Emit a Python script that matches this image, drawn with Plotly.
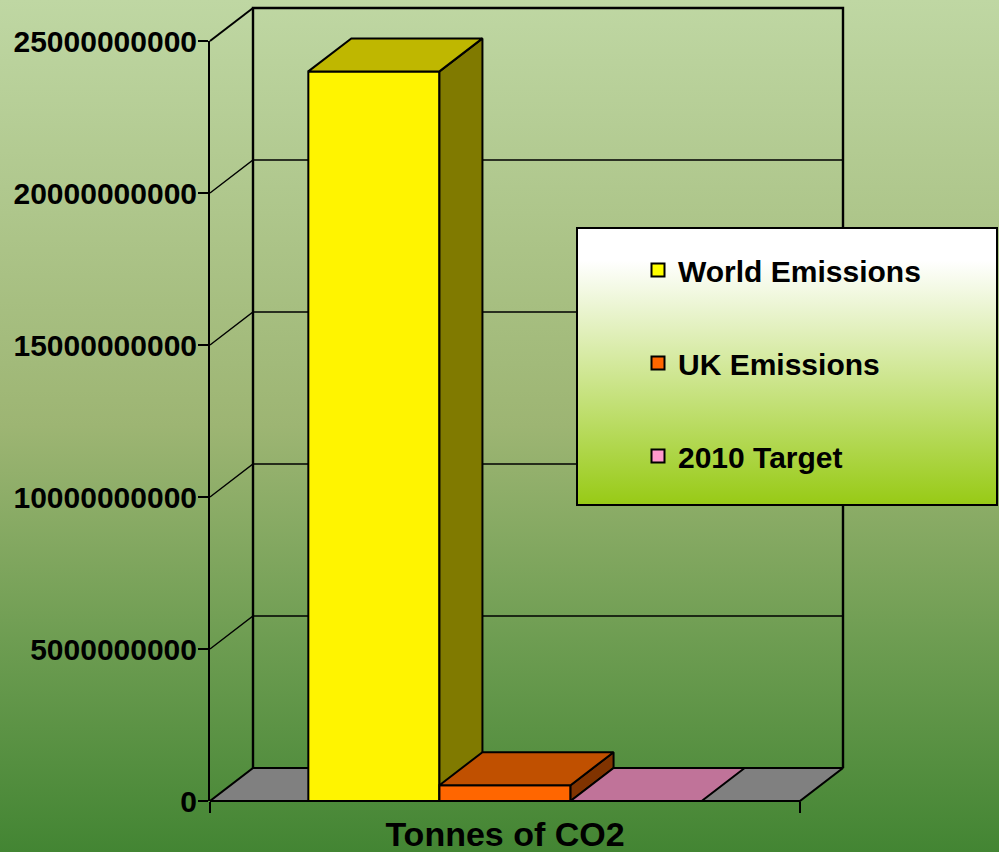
import base64
import plotly.graph_objects as go

# ---------------- data ----------------
categories = ["Tonnes of CO2"]
series_names = ["World Emissions", "UK Emissions", "2010 Target"]
series_values = [24.0e9, 0.52e9, 0.0]
y_tick_values = [0, 5e9, 10e9, 15e9, 20e9, 25e9]
y_tick_labels = ["0", "5000000000", "10000000000", "15000000000", "20000000000", "25000000000"]

# ---------------- styles ----------------
front_colors = ["#FFF400", "#FF6600", "#FF99CC"]
top_colors = ["#BFB700", "#C05000", "#C07399"]
side_colors = ["#807A00", "#803300", "#804C66"]
legend_colors = ["#FFFF00", "#FF6600", "#FF99CC"]
FLOOR_COLOR = "#808080"
FONT = "Liberation Sans, Arial, sans-serif"

# ---------------- layout geometry (pixels) ----------------
W, H = 999, 852
AX_L, FLOOR_R, ZERO_Y, TOP_Y = 210, 800, 801, 41
DEPTH_PX_X, DEPTH_PX_Y = 43, 33
Y_MAX = y_tick_values[-1]

n = len(series_names)
gap = 0.75                       # half of 150% gap width (in bar widths)
floor_w = n + 2 * gap            # category width in bar units
px_per_x = (FLOOR_R - AX_L) / floor_w
px_per_y = (ZERO_Y - TOP_Y) / Y_MAX
DX = DEPTH_PX_X / px_per_x
DY = DEPTH_PX_Y / px_per_y

fig = go.Figure()


def poly(xs, ys, fill, width=2.0, color="black", closed=True):
    if closed:
        xs = list(xs) + [xs[0]]
        ys = list(ys) + [ys[0]]
    fig.add_trace(go.Scatter(
        x=xs, y=ys, mode="lines",
        fill="toself" if fill else None,
        fillcolor=fill,
        line=dict(color=color, width=width),
        hoverinfo="skip", showlegend=False,
    ))


# walls: gridlines (side wall diagonals + back wall horizontals)
for t in y_tick_values[1:-1]:
    poly([0, DX, floor_w + DX], [t, t + DY, t + DY], None, width=1.4, closed=False)

# back wall frame
poly([DX, DX, floor_w + DX, floor_w + DX],
     [DY, Y_MAX + DY, Y_MAX + DY, DY], None, width=2.4, closed=False)
poly([0, DX], [Y_MAX, Y_MAX + DY], None, width=2.0, closed=False)

# floor
poly([0, floor_w, floor_w + DX, DX], [0, 0, DY, DY], FLOOR_COLOR, width=2.2)

# bars
for i, v in enumerate(series_values):
    x0 = gap + i
    x1 = x0 + 1
    if v > 0:
        poly([x0, x1, x1, x0], [0, 0, v, v], front_colors[i])
        poly([x1, x1 + DX, x1 + DX, x1], [0, DY, v + DY, v], side_colors[i])
    poly([x0, x1, x1 + DX, x0 + DX], [v, v, v + DY, v + DY], top_colors[i])

# legend entries
for i, name in enumerate(series_names):
    fig.add_trace(go.Scatter(
        x=[None], y=[None], mode="markers", name=name, legendgroup=name,
        marker=dict(symbol="square", size=13, color=legend_colors[i],
                    line=dict(color="black", width=2)),
        hoverinfo="skip",
    ))

# helper trace for the display axes
fig.add_trace(go.Scatter(x=[floor_w / 2], y=[0], xaxis="x2", yaxis="y2",
                         mode="markers", marker=dict(opacity=0),
                         hoverinfo="skip", showlegend=False))


def svg_uri(w, h, stops, stroke=None):
    st = "".join(f"<stop offset='{o}' stop-color='{c}'/>" for o, c in stops)
    border = ""
    if stroke:
        border = (f"<rect x='1' y='1' width='{w-2}' height='{h-2}' fill='none' "
                  f"stroke='{stroke}' stroke-width='2'/>")
    svg = (f"<svg xmlns='http://www.w3.org/2000/svg' width='{w}' height='{h}' "
           f"viewBox='0 0 {w} {h}' preserveAspectRatio='none'>"
           f"<defs><linearGradient id='g' x1='0' y1='0' x2='0' y2='1'>{st}"
           f"</linearGradient></defs><rect width='{w}' height='{h}' fill='url(#g)'/>"
           f"{border}</svg>")
    return "data:image/svg+xml;base64," + base64.b64encode(svg.encode()).decode()


bg = svg_uri(W, H, [(0, "#BFD7A3"), (0.5, "#9DB573"), (0.75, "#6E9D52"), (1, "#438533")])
LG_L, LG_T, LG_R, LG_B = 576, 227, 998, 506
lg = svg_uri(LG_R - LG_L, LG_B - LG_T,
             [(0, "#FFFFFF"), (0.12, "#FFFFFF"), (1, "#97CA14")], stroke="black")

fig.update_layout(
    width=W, height=H,
    margin=dict(l=0, r=0, t=0, b=0, autoexpand=False),
    paper_bgcolor="#438533",
    plot_bgcolor="rgba(0,0,0,0)",
    font=dict(family=FONT, color="black"),
    images=[
        dict(source=bg, xref="paper", yref="paper", x=0, y=1, sizex=1, sizey=1,
             xanchor="left", yanchor="top", sizing="stretch", layer="below"),
        dict(source=lg, xref="paper", yref="paper", x=LG_L / W, y=1 - LG_T / H,
             sizex=(LG_R - LG_L) / W, sizey=(LG_B - LG_T) / H,
             xanchor="left", yanchor="top", sizing="stretch", layer="above"),
    ],
    xaxis=dict(domain=[0, 1], range=[-AX_L / px_per_x, (W - AX_L) / px_per_x],
               visible=False, fixedrange=True, automargin=False),
    yaxis=dict(domain=[0, 1], range=[-(H - ZERO_Y) / px_per_y, ZERO_Y / px_per_y],
               visible=False, fixedrange=True, automargin=False),
    xaxis2=dict(domain=[AX_L / W, FLOOR_R / W], range=[0, floor_w], anchor="y2",
                automargin=False,
                showline=False, showgrid=False, zeroline=False,
                tickmode="array", tickvals=[floor_w / 2], ticktext=categories,
                ticks="outside", ticklen=0, tickcolor="rgba(0,0,0,0)",
                ticklabelstandoff=3,
                tickfont=dict(size=34, family=FONT, weight="bold", color="black"),
                minor=dict(tickmode="array", tickvals=[0, floor_w], ticks="outside",
                           ticklen=11, tickwidth=2, tickcolor="black", showgrid=False),
                fixedrange=True),
    yaxis2=dict(domain=[(H - ZERO_Y) / H, (H - TOP_Y) / H], range=[0, Y_MAX],
                anchor="x2", automargin=False,
                showline=True, linecolor="black", linewidth=2,
                showgrid=False, zeroline=False,
                tickmode="array", tickvals=y_tick_values, ticktext=y_tick_labels,
                ticks="outside", ticklen=10, tickwidth=1.5, tickcolor="black",
                ticklabelstandoff=-5,
                tickfont=dict(size=30, family=FONT, weight="bold", color="black"),
                fixedrange=True),
    showlegend=True,
    legend=dict(x=638 / W, xanchor="left", y=1 - 244 / H, yanchor="top",
                bgcolor="rgba(0,0,0,0)", borderwidth=0,
                traceorder="grouped", tracegroupgap=51,
                font=dict(size=30, family=FONT, weight="bold", color="black")),
)

fig.write_html("out.html")
